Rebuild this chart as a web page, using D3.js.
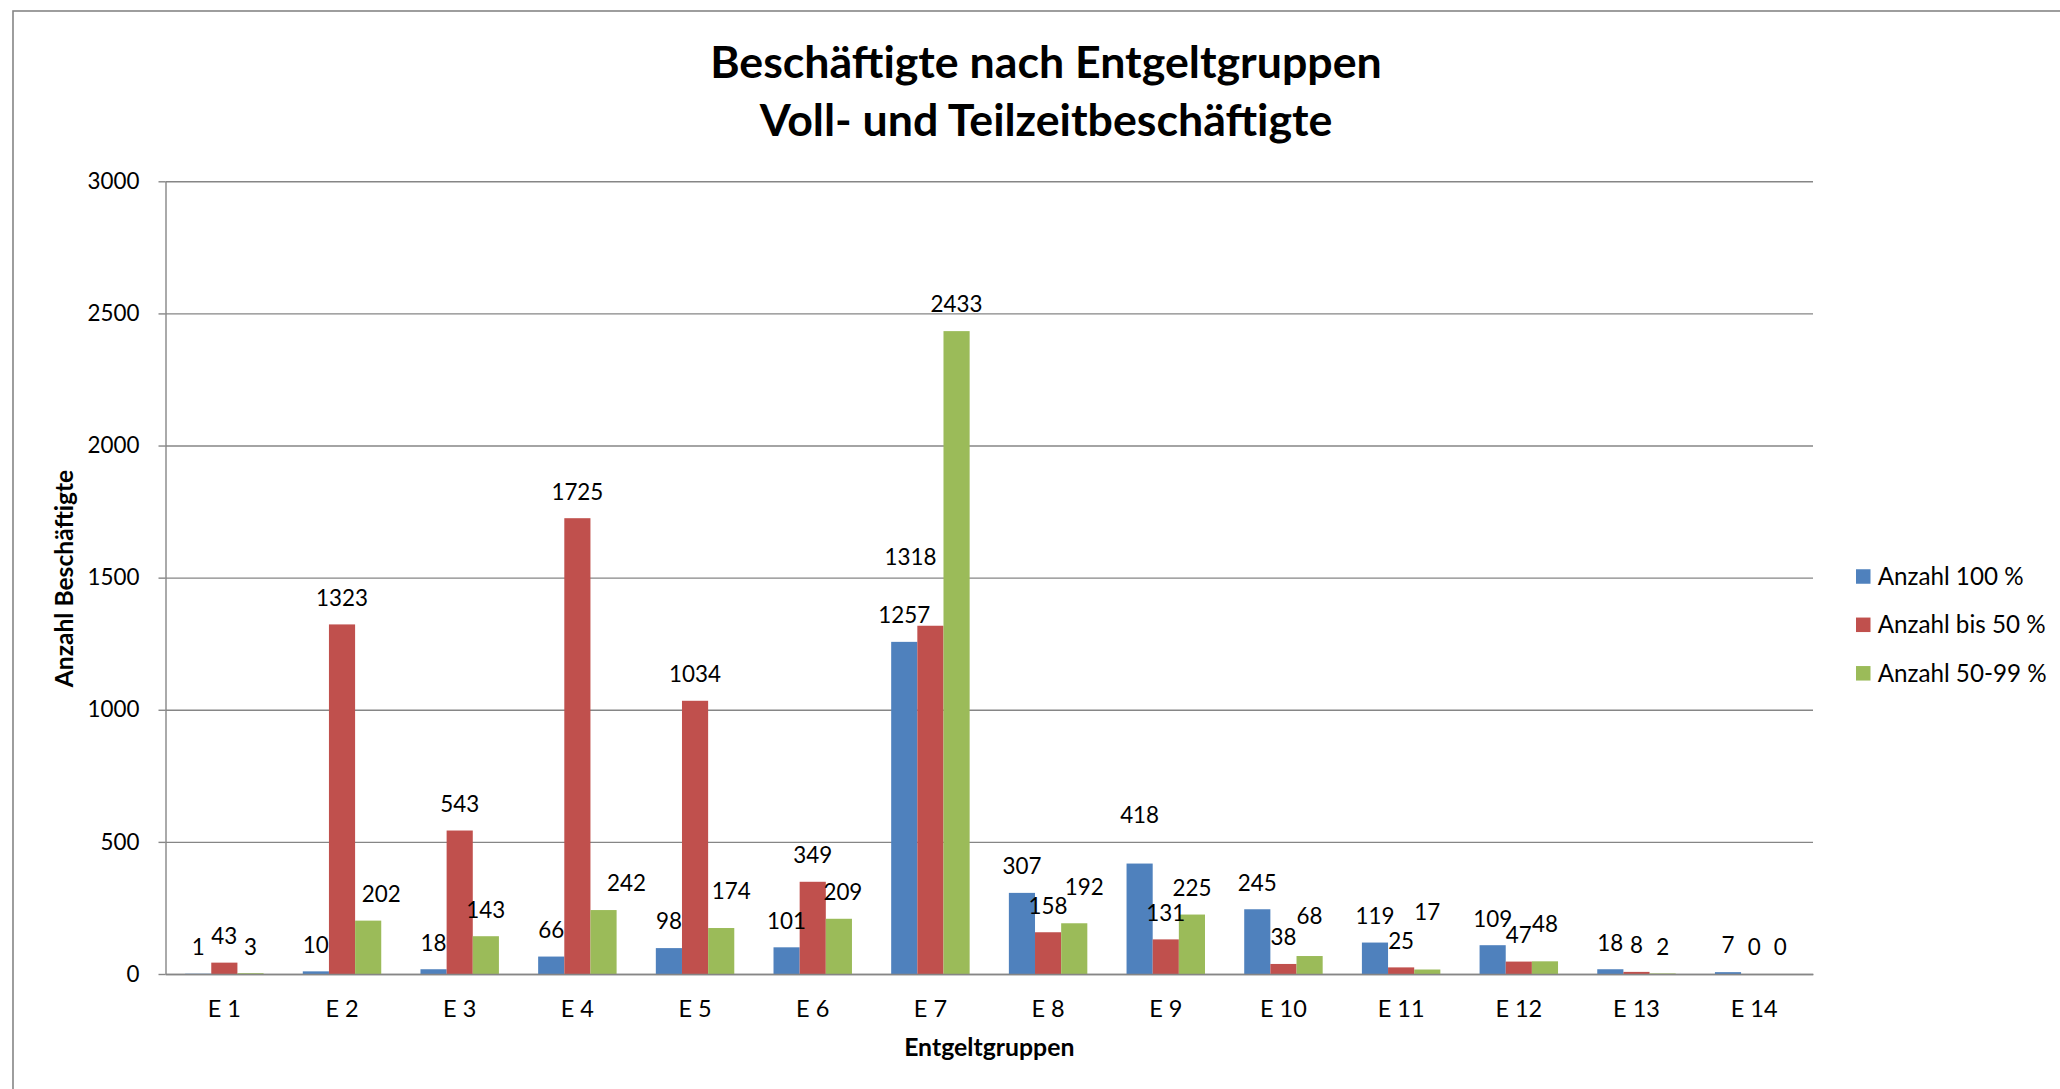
<!DOCTYPE html>
<html>
<head>
<meta charset="utf-8">
<script src="https://cdn.jsdelivr.net/npm/d3@7"></script>
<style>
  body { margin: 0; background: #fff; }
  svg { display: block; font-family: Lato, "Liberation Sans", sans-serif; }
</style>
</head>
<body>
<svg width="2060" height="1089"></svg>
<script>
// Beschäftigte nach Entgeltgruppen

var categories = ["E 1", "E 2", "E 3", "E 4", "E 5", "E 6", "E 7", "E 8", "E 9", "E 10", "E 11", "E 12", "E 13", "E 14"];
var seriesNames = ["Anzahl 100 %", "Anzahl bis 50 %", "Anzahl 50-99 %"];
var anzahl100   = [1, 10, 18, 66, 98, 101, 1257, 307, 418, 245, 119, 109, 18, 7];
var anzahlBis50 = [43, 1323, 543, 1725, 1034, 349, 1318, 158, 131, 38, 25, 47, 8, 0];
var anzahl5099  = [3, 202, 143, 242, 174, 209, 2433, 192, 225, 68, 17, 48, 2, 0];
var yTicks = [0, 500, 1000, 1500, 2000, 2500, 3000];

var colors = ["#4f81bd", "#c0504d", "#9bbb59"];

// labels that were dragged by hand in the original (dx, dy in px)
var labelNudge = {
  "E 2|2": [13, 0], "E 4|2": [23, 0], "E 5|2": [10, -10], "E 6|2": [4, 0],
  "E 7|1": [-20, -42], "E 8|2": [10, -10], "E 9|0": [0, -22],
  "E 10|2": [0, -13], "E 11|2": [0, -31], "E 12|2": [0, -11]
};

var svg = d3.select("svg"),
    margin = {top: 181.3, right: 247, bottom: 115, left: 165.5},
    width = +svg.attr("width") - margin.left - margin.right,
    height = +svg.attr("height") - margin.top - margin.bottom,
    g = svg.append("g").attr("transform", "translate(" + margin.left + "," + margin.top + ")");

var gridColor = "#868686";

// chart frame (runs off the right and bottom of the picture)
svg.append("rect")
    .attr("x", 13).attr("y", 11)
    .attr("width", 2200).attr("height", 1200)
    .attr("fill", "none")
    .attr("stroke", gridColor)
    .attr("stroke-width", 1.6);

var data = categories.map(function(c, i) {
  return {cat: c, values: [anzahl100[i], anzahlBis50[i], anzahl5099[i]]};
});

var x0 = d3.scaleBand().domain(categories).range([0, width]).paddingInner(0).paddingOuter(0);
var x1 = d3.scaleBand().domain([0, 1, 2]).range([0, x0.bandwidth()]).paddingInner(0).paddingOuter(0.75);
var y = d3.scaleLinear().domain([0, 3000]).range([height, 0]);

// gridlines
g.append("g")
    .call(d3.axisLeft(y).tickValues(yTicks).tickSize(-width).tickFormat(""))
    .call(function(s) { s.select(".domain").remove(); })
    .selectAll("line")
      .attr("stroke", gridColor)
      .attr("stroke-width", 1.4);

// y axis
var yAxis = g.append("g")
    .call(d3.axisLeft(y).tickValues(yTicks).tickFormat(d3.format("d"))
      .tickSizeInner(7).tickSizeOuter(0).tickPadding(19));
yAxis.select(".domain").attr("stroke", gridColor).attr("stroke-width", 1.4);
yAxis.selectAll(".tick line").attr("stroke", gridColor).attr("stroke-width", 1.4);
yAxis.selectAll("text")
    .attr("font-family", "Lato, 'Liberation Sans', sans-serif")
    .attr("font-size", 22.4)
    .attr("fill", "#000");

// bars
var groups = g.selectAll(".grp")
  .data(data)
  .enter().append("g")
    .attr("class", "grp")
    .attr("transform", function(d) { return "translate(" + x0(d.cat) + ",0)"; });

groups.selectAll("rect")
  .data(function(d) { return d.values.map(function(v, k) { return {cat: d.cat, k: k, v: v}; }); })
  .enter().append("rect")
    .attr("x", function(d) { return x1(d.k); })
    .attr("y", function(d) { return y(d.v); })
    .attr("width", x1.bandwidth())
    .attr("height", function(d) { return height - y(d.v); })
    .attr("fill", function(d) { return colors[d.k]; });

// x axis
var xAxis = g.append("g")
    .attr("transform", "translate(0," + height + ")")
    .call(d3.axisBottom(x0).tickSize(0).tickPadding(26));
xAxis.select(".domain").attr("stroke", gridColor).attr("stroke-width", 1.6);
xAxis.selectAll("text")
    .attr("font-family", "Lato, 'Liberation Sans', sans-serif")
    .attr("font-size", 23.5)
    .attr("fill", "#000");

// data labels
groups.selectAll(".lbl")
  .data(function(d) { return d.values.map(function(v, k) { return {cat: d.cat, k: k, v: v}; }); })
  .enter().append("text")
    .attr("class", "lbl")
    .attr("x", function(d) {
      var n = labelNudge[d.cat + "|" + d.k] || [0, 0];
      return x1(d.k) + x1.bandwidth() / 2 + n[0];
    })
    .attr("y", function(d) {
      var n = labelNudge[d.cat + "|" + d.k] || [0, 0];
      return y(d.v) - 26.5 + n[1];
    })
    .attr("dy", "0.35em")
    .attr("text-anchor", "middle")
    .attr("font-size", 22.4)
    .attr("fill", "#000")
    .text(function(d) { return d.v; });

// titles
var title = svg.append("text")
    .attr("text-anchor", "middle")
    .attr("font-weight", "bold")
    .attr("font-size", 44.7)
    .attr("fill", "#000");
title.append("tspan").attr("x", 1046).attr("y", 78).text("Beschäftigte nach Entgeltgruppen");
title.append("tspan").attr("x", 1046).attr("y", 136).text("Voll- und Teilzeitbeschäftigte");

svg.append("text")
    .attr("transform", "translate(73,578.5) rotate(-90)")
    .attr("text-anchor", "middle")
    .attr("font-weight", "bold")
    .attr("font-size", 24.6)
    .attr("fill", "#000")
    .text("Anzahl Beschäftigte");

svg.append("text")
    .attr("x", margin.left + width / 2)
    .attr("y", 1056)
    .attr("text-anchor", "middle")
    .attr("font-weight", "bold")
    .attr("font-size", 24.8)
    .attr("fill", "#000")
    .text("Entgeltgruppen");

// legend
var legend = svg.append("g").attr("transform", "translate(1856,0)");
var rowY = [576.5, 624.8, 673.3];

legend.selectAll("rect")
  .data(seriesNames)
  .enter().append("rect")
    .attr("x", 0)
    .attr("y", function(d, i) { return rowY[i] - 7.25; })
    .attr("width", 14.5)
    .attr("height", 14.5)
    .attr("fill", function(d, i) { return colors[i]; });

legend.selectAll("text")
  .data(seriesNames)
  .enter().append("text")
    .attr("x", 21.7)
    .attr("y", function(d, i) { return rowY[i]; })
    .attr("dy", "0.35em")
    .attr("font-size", 24.2)
    .attr("fill", "#000")
    .text(function(d) { return d; });
</script>
</body>
</html>
